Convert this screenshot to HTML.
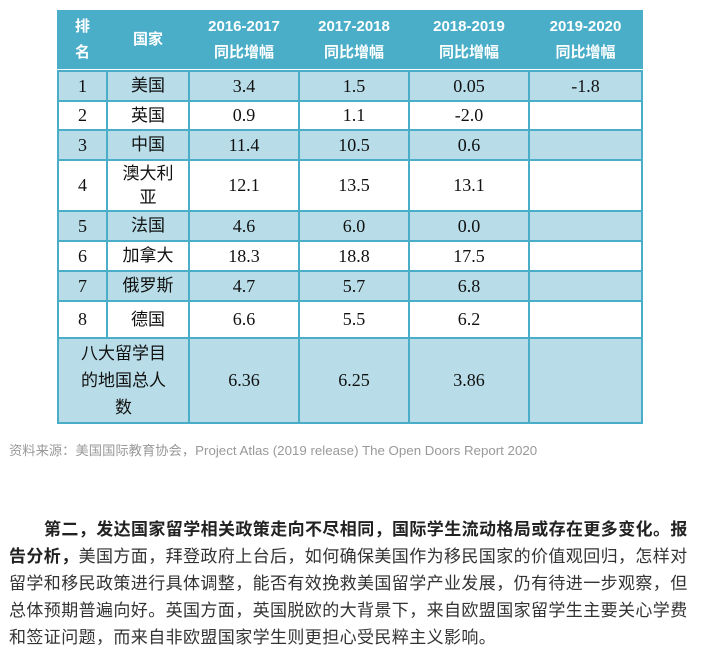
<!DOCTYPE html>
<html><head><meta charset="utf-8">
<style>
body{margin:0;width:708px;height:651px;background:#fff;position:relative;overflow:hidden;font-family:"Liberation Sans","Noto Sans CJK SC",sans-serif}
#tbl{position:absolute;left:57px;top:10px;width:584px;border-collapse:collapse;table-layout:fixed}
#tbl td,#tbl th{border:2px solid #4aaec8;text-align:center;padding:0;color:#111}
#tbl th{background:#4aaec8;color:#fff;font-weight:bold;font-size:15px;line-height:26px;border-color:#4aaec8}
#tbl td{font-size:18px;font-family:"Liberation Serif","Noto Sans CJK SC",serif}
#tbl td.c{font-family:"Liberation Sans","Noto Sans CJK SC",sans-serif;font-size:17px;line-height:24px}
tr.b td{background:#b8dde8}
.cap{position:absolute;left:9px;top:440px;font-size:13.3px;color:#999;white-space:nowrap}
.p{position:absolute;left:9px;top:516px;font-size:17px;letter-spacing:0.4px;line-height:27px;color:#333;white-space:nowrap}
.p b{color:#222}
</style></head><body>
<table id="tbl">
<colgroup><col style="width:49px"><col style="width:82px"><col style="width:110px"><col style="width:110px"><col style="width:120px"><col style="width:113px"></colgroup>
<tr style="height:57px"><th>排<br>名</th><th>国家</th><th>2016-2017<br>同比增幅</th><th>2017-2018<br>同比增幅</th><th>2018-2019<br>同比增幅</th><th>2019-2020<br>同比增幅</th></tr>
<tr style="height:3px"><td colspan="6" style="border:none;background:#fff"></td></tr>
<tr class="b" style="height:30px"><td>1</td><td class="c">美国</td><td>3.4</td><td>1.5</td><td>0.05</td><td>-1.8</td></tr>
<tr style="height:29px"><td>2</td><td class="c">英国</td><td>0.9</td><td>1.1</td><td>-2.0</td><td></td></tr>
<tr class="b" style="height:30px"><td>3</td><td class="c">中国</td><td>11.4</td><td>10.5</td><td>0.6</td><td></td></tr>
<tr style="height:51px"><td>4</td><td class="c">澳大利<br>亚</td><td>12.1</td><td>13.5</td><td>13.1</td><td></td></tr>
<tr class="b" style="height:30px"><td>5</td><td class="c">法国</td><td>4.6</td><td>6.0</td><td>0.0</td><td></td></tr>
<tr style="height:30px"><td>6</td><td class="c">加拿大</td><td>18.3</td><td>18.8</td><td>17.5</td><td></td></tr>
<tr class="b" style="height:30px"><td>7</td><td class="c">俄罗斯</td><td>4.7</td><td>5.7</td><td>6.8</td><td></td></tr>
<tr style="height:37px"><td>8</td><td class="c">德国</td><td>6.6</td><td>5.5</td><td>6.2</td><td></td></tr>
<tr class="b" style="height:85px"><td colspan="2" class="c" style="line-height:27px">八大留学目<br>的地国总人<br>数</td><td>6.36</td><td>6.25</td><td>3.86</td><td></td></tr>
</table>
<div class="cap">资料来源：美国国际教育协会，Project Atlas (2019 release) The Open Doors Report 2020</div>
<div class="p"><span style="display:inline-block;width:35px"></span><b>第二，发达国家留学相关政策走向不尽相同，国际学生流动格局或存在更多变化。报</b><br><b>告分析，</b>美国方面，拜登政府上台后，如何确保美国作为移民国家的价值观回归，怎样对<br>留学和移民政策进行具体调整，能否有效挽救美国留学产业发展，仍有待进一步观察，但<br>总体预期普遍向好。英国方面，英国脱欧的大背景下，来自欧盟国家留学生主要关心学费<br>和签证问题，而来自非欧盟国家学生则更担心受民粹主义影响。</div>
</body></html>
